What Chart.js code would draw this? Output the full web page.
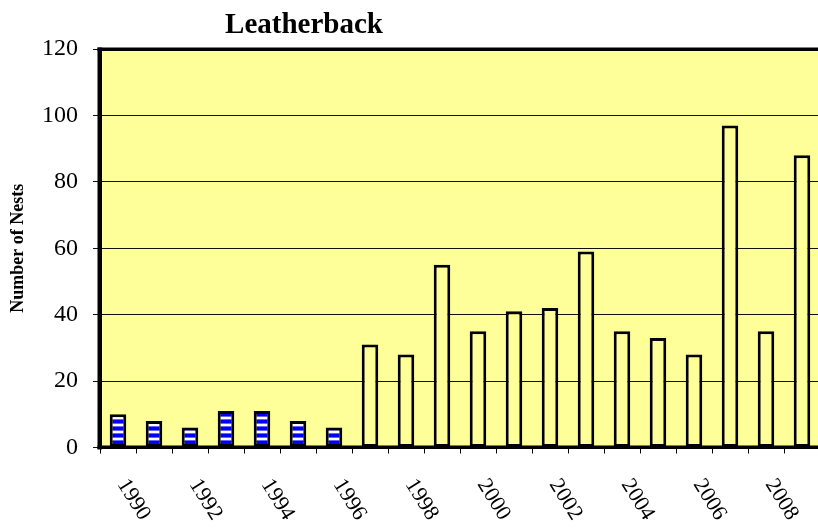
<!DOCTYPE html>
<html>
<head>
<meta charset="utf-8">
<script src="https://cdn.jsdelivr.net/npm/chart.js@4"></script>
<style>
html,body{margin:0;padding:0;background:#fff;overflow:hidden;width:818px;height:528px;}
#wrap{width:830px;height:528px;}
</style>
</head>
<body>
<div id="wrap"><canvas id="c" width="830" height="528"></canvas></div>
<script>
const years = ['1990','1991','1992','1993','1994','1995','1996','1997','1998','1999','2000','2001','2002','2003','2004','2005','2006','2007','2008','2009'];
const nests = [10, 8, 6, 11, 11, 8, 6, 31, 28, 55, 35, 41, 42, 59, 35, 33, 28, 97, 35, 88];
const stripedCount = 7; // 1990-1996 drawn with striped pattern
const yTicks = [0, 20, 40, 60, 80, 100, 120];
const chartTitle = 'Leatherback';
const yTitle = 'Number of Nests';

const SERIF = "'Liberation Serif','Times New Roman',serif";
const BG = '#FFFF99';

// striped pattern
const pc = document.createElement('canvas');
pc.width = 8; pc.height = 7;
const pctx = pc.getContext('2d');
const rows = ['#0000FF','#0000FF','#0000FF','#6666FF','#FFFFFF','#FFFFFF','#6666FF'];
rows.forEach((c,i)=>{pctx.fillStyle=c;pctx.fillRect(0,i,8,1);});
const ctx = document.getElementById('c').getContext('2d');
const stripe = ctx.createPattern(pc, 'repeat');

const fills = nests.map((v,i)=> i < stripedCount ? stripe : BG);

const plotBg = {
  id:'plotBg',
  beforeDraw(chart){
    const {ctx, chartArea:a} = chart;
    ctx.save();
    ctx.fillStyle = BG;
    ctx.fillRect(a.left, a.top, a.right-a.left, a.bottom-a.top);
    ctx.restore();
  },
  afterDatasetsDraw(chart){
    const {ctx, chartArea:a} = chart;
    ctx.save();
    ctx.fillStyle = '#000';
    ctx.fillRect(a.left-2.5, a.top-1.5, a.right-a.left+5, 3.5);   // top
    ctx.fillRect(a.left-2.5, a.bottom-2, a.right-a.left+5, 3.5);  // bottom
    ctx.fillRect(a.left-2.5, a.top-1.5, 4.5, a.bottom-a.top+3.5); // left
    ctx.fillRect(a.right-2, a.top-1.5, 4.5, a.bottom-a.top+3.5);  // right
    ctx.restore();
  },
  afterDraw(chart){
    const {ctx} = chart;
    const xs = chart.scales.x;
    ctx.save();
    ctx.fillStyle = '#000';
    ctx.font = "bold 29px " + SERIF;
    ctx.textAlign = 'center';
    ctx.textBaseline = 'alphabetic';
    ctx.fillText(chartTitle, 304, 33);
    ctx.font = "22px " + SERIF;
    ctx.textAlign = 'left';
    ctx.textBaseline = 'middle';
    years.forEach((y,i)=>{
      if (i % 2 !== 0) return;
      const x = xs.getPixelForValue(i);
      ctx.save();
      ctx.translate(x + 4, 481);
      ctx.rotate(58*Math.PI/180);
      ctx.fillText(y, 0, 0);
      ctx.restore();
    });
    ctx.restore();
  }
};

new Chart(ctx, {
  type:'bar',
  data:{
    labels: years,
    datasets:[{
      data: nests,
      backgroundColor: fills,
      borderColor:'#000',
      borderWidth:3,
      borderSkipped:false,
      categoryPercentage:1,
      barPercentage:0.46
    }]
  },
  options:{
    responsive:false,
    animation:false,
    devicePixelRatio:1,
    layout:{padding:{top:49, right:10, left:0, bottom:0}},
    plugins:{legend:{display:false}, title:{display:false}, tooltip:{enabled:false}},
    scales:{
      x:{
        offset:true,
        grid:{display:true, drawOnChartArea:false, drawTicks:true, tickLength:6, color:'#000', lineWidth:1, offset:true},
        border:{display:false},
        ticks:{display:false},
        afterFit(s){ s.height = 80.5; }
      },
      y:{
        min:0, max:120,
        afterBuildTicks(s){ s.ticks = yTicks.map(v=>({value:v})); },
        grid:{display:true, drawTicks:true, tickLength:7, color:'#111', lineWidth:1},
        border:{display:false},
        ticks:{color:'#000', padding:15, font:{family:SERIF, size:24}},
        title:{display:true, text:yTitle, color:'#000', font:{family:SERIF, size:18, weight:'bold'}, padding:{top:8, bottom:0}},
        afterFit(s){ s.width = 100; }
      }
    }
  },
  plugins:[plotBg]
});
</script>
</body>
</html>
